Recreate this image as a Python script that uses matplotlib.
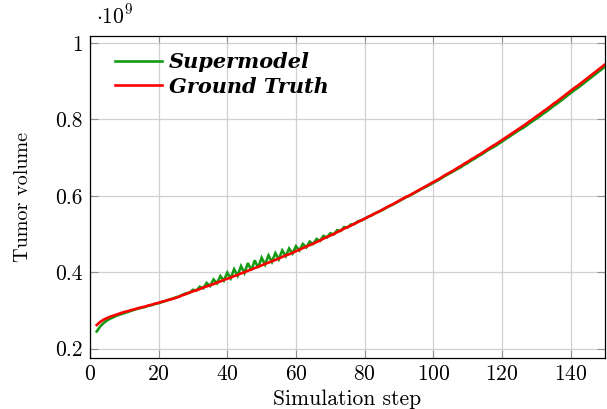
import numpy as np
import matplotlib
matplotlib.use("Agg")
import matplotlib.pyplot as plt
from matplotlib.ticker import FuncFormatter

plt.rcParams['font.family'] = 'cmr10'
plt.rcParams['mathtext.fontset'] = 'cm'
plt.rcParams['axes.formatter.use_mathtext'] = True

# simulation steps 2..150
steps = list(range(2, 151))

# tumor volume, in units of 1e9
ground_truth = [
    .262, .270, .276, .280, .284, .287, .290, .293, .296, .298,
    .301, .303, .306, .308, .310, .313, .315, .318, .320, .323,
    .325, .328, .330, .333, .336, .340, .343, .347, .350, .353,
    .356, .360, .363, .366, .369, .373, .376, .380, .383, .386,
    .390, .393, .397, .400, .404, .407, .411, .414, .418, .422,
    .425, .429, .432, .436, .440, .444, .447, .451, .455, .459,
    .463, .467, .471, .475, .479, .483, .488, .492, .496, .500,
    .505, .509, .514, .518, .522, .527, .531, .536, .540, .545,
    .549, .554, .558, .563, .568, .573, .577, .582, .587, .592,
    .597, .601, .606, .611, .616, .621, .626, .631, .636, .641,
    .646, .652, .657, .662, .667, .673, .678, .684, .689, .695,
    .700, .706, .711, .717, .723, .729, .734, .740, .746, .752,
    .758, .764, .770, .776, .782, .788, .795, .801, .808, .814,
    .821, .827, .834, .841, .847, .854, .861, .868, .875, .882,
    .888, .895, .902, .909, .916, .923, .930, .937, .944,
]

supermodel = [
    .245, .258, .267, .274, .279, .283, .287, .290, .293, .296,
    .299, .302, .305, .307, .309, .312, .314, .317, .319, .322,
    .325, .328, .331, .334, .337, .341, .345, .346, .354, .352,
    .362, .358, .372, .364, .381, .371, .390, .378, .399, .384,
    .408, .391, .416, .398, .424, .405, .431, .412, .438, .420,
    .444, .427, .450, .434, .457, .442, .462, .449, .468, .457,
    .474, .465, .480, .474, .487, .482, .495, .491, .502, .499,
    .510, .508, .518, .517, .525, .526, .533, .535, .540, .545,
    .549, .554, .558, .562, .567, .572, .576, .581, .586, .591,
    .596, .600, .605, .610, .615, .620, .624, .629, .634, .639,
    .644, .650, .655, .660, .665, .670, .675, .681, .686, .692,
    .697, .703, .708, .714, .720, .725, .730, .736, .742, .748,
    .754, .760, .766, .772, .777, .783, .790, .796, .802, .808,
    .815, .821, .828, .835, .841, .848, .855, .862, .869, .876,
    .882, .889, .896, .903, .910, .917, .924, .931, .938,
]

x_ticks = [0, 20, 40, 60, 80, 100, 120, 140]
y_ticks = [0.2, 0.4, 0.6, 0.8, 1.0]

fig = plt.figure(figsize=(6.07, 4.09), dpi=100)
ax = fig.add_axes([0.148, 0.125, 0.849, 0.787])

ax.plot(steps, np.array(supermodel) * 1e9, color='#159a15', lw=1.9,
        solid_joinstyle='miter', label='Supermodel', zorder=3)
ax.plot(steps, np.array(ground_truth) * 1e9, color='red', lw=1.9,
        solid_joinstyle='miter', label='Ground Truth', zorder=4)

ax.set_xlim(0, 150)
ax.set_ylim(0.176e9, 1.018e9)
ax.set_xticks(x_ticks)
ax.set_yticks([v * 1e9 for v in y_ticks])
ax.yaxis.set_major_formatter(FuncFormatter(lambda v, p: '%g' % round(v / 1e9, 3)))

ax.grid(True, color='#d0d0d0', lw=0.9)
ax.set_axisbelow(True)
ax.tick_params(direction='in', top=True, right=True, length=5.5, width=0.8,
               color='#909090', labelsize=15.5, pad=5)
for s in ax.spines.values():
    s.set_linewidth(0.9)

ax.set_xlabel('Simulation step', fontsize=15.5, labelpad=4)
ax.set_ylabel('Tumor volume', fontsize=14.5, labelpad=17)
ax.text(0.012, 1.025, r'$\cdot 10^9$', transform=ax.transAxes, fontsize=15.5,
        ha='left', va='bottom')

leg = ax.legend(loc='upper left', bbox_to_anchor=(0.032, 0.975), borderaxespad=0,
                frameon=False, handlelength=2.25, labelspacing=0.2, handletextpad=0.35,
                prop={'family': 'DejaVu Serif', 'style': 'italic', 'weight': 'bold', 'size': 15})

fig.savefig('out.png', dpi=100)
